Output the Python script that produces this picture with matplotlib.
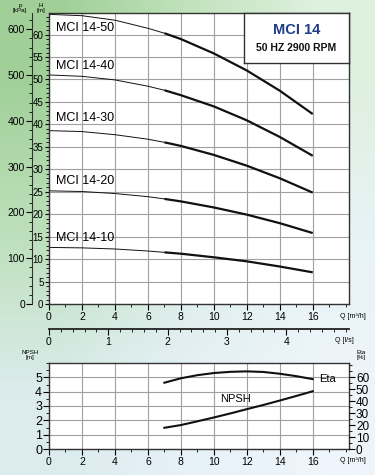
import numpy as np
import matplotlib
matplotlib.use("Agg")
import matplotlib.pyplot as plt
from matplotlib.ticker import MultipleLocator

plt.rcParams['font.family'] = ['Liberation Sans Narrow', 'Liberation Sans', 'DejaVu Sans']

# pump curves, H [m] vs Q [m3/h]
q = [0, 2, 4, 6, 7, 8, 10, 12, 14, 16]
h_50 = [64.5, 64.2, 63.2, 61.4, 60.3, 59.0, 55.8, 52.0, 47.5, 42.3]
h_40 = [51.0, 50.7, 49.9, 48.5, 47.6, 46.5, 44.0, 40.9, 37.2, 33.0]
h_30 = [38.6, 38.4, 37.7, 36.7, 36.0, 35.2, 33.2, 30.8, 28.0, 24.8]
h_20 = [25.2, 25.05, 24.6, 23.9, 23.4, 22.85, 21.5, 19.9, 18.0, 15.8]
h_10 = [12.6, 12.5, 12.25, 11.8, 11.5, 11.2, 10.4, 9.5, 8.35, 7.05]
models = ["MCI 14-50", "MCI 14-40", "MCI 14-30", "MCI 14-20", "MCI 14-10"]
label_h = [61.5, 53.0, 41.4, 27.4, 14.7]

# npsh / efficiency
q_low = [7, 8, 9, 10, 11, 12, 13, 14, 15, 16]
npsh = [1.48, 1.67, 1.93, 2.2, 2.48, 2.78, 3.07, 3.38, 3.7, 4.03]
eta = [55.5, 59.2, 61.8, 63.6, 64.6, 65.0, 64.5, 63.0, 61.0, 58.5]

W, H = 375, 475
fig = plt.figure(figsize=(3.75, 4.75), dpi=100)

# background gradient
bg = fig.add_axes([0, 0, 1, 1], zorder=-10)
cols = np.array([
    [[160, 208, 152], [193, 226, 188], [222, 240, 222]],
    [[190, 224, 188], [218, 237, 228], [232, 243, 246]],
    [[220, 236, 238], [230, 241, 248], [238, 245, 251]],
]) / 255.0
bg.imshow(cols, aspect='auto', interpolation='bilinear', extent=[0, 1, 0, 1])
bg.axis('off')

def rect(l, t, r, b):
    return [l / W, 1 - b / H, (r - l) / W, (b - t) / H]

tick_fs = 7.5
ln = '#111111'

# ---- main H-Q chart
ax = fig.add_axes(rect(49, 13, 349, 304))
ax.set_xlim(0, 18.2)
ax.set_ylim(0, 64.8)
ax.set_facecolor('white')
ax.xaxis.set_minor_locator(MultipleLocator(1))
ax.yaxis.set_major_locator(MultipleLocator(5))
ax.yaxis.set_minor_locator(MultipleLocator(1))
ax.set_xticks([0, 2, 4, 6, 8, 10, 12, 14, 16])
ax.grid(True, which='major', color='#a0a0a0', lw=0.8)
ax.tick_params(labelsize=tick_fs, length=4, width=0.8, pad=2)
ax.tick_params(axis='y', labelsize=7, length=3, pad=1)
ax.tick_params(which='minor', length=2, width=0.6)
for s in ax.spines.values():
    s.set_color('#333333')
    s.set_linewidth(1.0)

qa = np.array(q)
for hv, name, ly in zip([h_50, h_40, h_30, h_20, h_10], models, label_h):
    hv = np.array(hv)
    thin = qa <= 7
    thick = qa >= 7
    ax.plot(qa[thin], hv[thin], color=ln, lw=0.7)
    ax.plot(qa[thick], hv[thick], color=ln, lw=1.6, solid_capstyle='butt')
    ax.text(0.45, ly, name, fontsize=9, va='center', ha='left')

fig.text(340 / W, 1 - 317 / H, "Q [m³/h]", fontsize=5, ha='left', va='center')

# kPa axis
axp = ax.twinx()
axp.set_ylim(0, 64.8 * 9.81)
axp.yaxis.set_ticks_position('left')
axp.spines['left'].set_position(('axes', -0.057))
axp.spines['left'].set_visible(True)
for k in ['right', 'top', 'bottom']:
    axp.spines[k].set_visible(False)
axp.spines['left'].set_color('#333333')
axp.yaxis.set_major_locator(MultipleLocator(100))
axp.yaxis.set_minor_locator(MultipleLocator(20))
axp.tick_params(labelsize=tick_fs, length=4, width=0.8, pad=1)
axp.tick_params(which='minor', length=2, width=0.6)

fig.text(20 / W, 1 - 8 / H, "p\n[kPa]", fontsize=4.5, ha='center', va='center', linespacing=0.9)
fig.text(41 / W, 1 - 8 / H, "H\n[m]", fontsize=4.5, ha='center', va='center', linespacing=0.9)

# l/s axis
sec = ax.secondary_xaxis(-0.086, functions=(lambda x: x / 3.6, lambda x: x * 3.6))
sec.xaxis.set_minor_locator(MultipleLocator(0.2))
sec.set_xticks([0, 1, 2, 3, 4])
sec.spines['bottom'].set_linewidth(1.3)
sec.spines['bottom'].set_color('#222222')
sec.tick_params(labelsize=tick_fs, length=4, width=0.8, pad=2)
sec.tick_params(which='minor', length=2, width=0.6)
fig.text(335 / W, 1 - 341 / H, "Q [l/s]", fontsize=5, ha='left', va='center')

# title box
tb = fig.add_axes(rect(244, 13, 349, 63), zorder=5)
tb.set_xticks([])
tb.set_yticks([])
tb.set_facecolor('white')
for s in tb.spines.values():
    s.set_color('#333333')
    s.set_linewidth(1.0)
tb.text(0.5, 0.66, "MCI 14", fontsize=10.5, fontweight='bold', color='#1f3c88',
        ha='center', va='center')
tb.text(0.5, 0.3, "50 HZ 2900 RPM", fontsize=7.5, fontweight='bold', color='#111111',
        ha='center', va='center')

# ---- NPSH / Eta chart
ax2 = fig.add_axes(rect(49, 363, 349, 449))
ax2.set_xlim(0, 18.2)
ax2.set_ylim(0, 6)
ax2.set_facecolor('white')
ax2.set_xticks([0, 2, 4, 6, 8, 10, 12, 14, 16])
ax2.xaxis.set_minor_locator(MultipleLocator(1))
ax2.set_yticks([0, 1, 2, 3, 4, 5])
ax2.yaxis.set_minor_locator(MultipleLocator(0.5))
ax2.grid(True, which='major', color='#a0a0a0', lw=0.8)
ax2.tick_params(labelsize=tick_fs, length=4, width=0.8, pad=2)
ax2.tick_params(axis='y', labelsize=9, pad=1)
ax2.tick_params(which='minor', length=2, width=0.6)
for s in ax2.spines.values():
    s.set_color('#333333')
    s.set_linewidth(1.0)
ax2.plot(q_low, npsh, color=ln, lw=1.5)
ax2.text(10.36, 3.47, "NPSH", fontsize=8, ha='left', va='center')

ax3 = ax2.twinx()
ax3.set_ylim(0, 72)
ax3.set_yticks([0, 10, 20, 30, 40, 50, 60])
ax3.yaxis.set_minor_locator(MultipleLocator(5))
ax3.tick_params(labelsize=8.5, length=4, width=0.8, pad=1)
ax3.tick_params(which='minor', length=2, width=0.6)
for s in ax3.spines.values():
    s.set_visible(False)
ax3.plot(q_low, eta, color=ln, lw=1.5)
ax3.text(16.4, 58.5, "Eta", fontsize=8, ha='left', va='center')

fig.text(30 / W, 1 - 355 / H, "NPSH\n[m]", fontsize=4.5, ha='center', va='center', linespacing=0.9)
fig.text(361 / W, 1 - 355 / H, "Eta\n[%]", fontsize=4.5, ha='center', va='center', linespacing=0.9)
fig.text(340 / W, 1 - 461 / H, "Q [m³/h]", fontsize=5, ha='left', va='center')

fig.savefig("out.png", dpi=100)
